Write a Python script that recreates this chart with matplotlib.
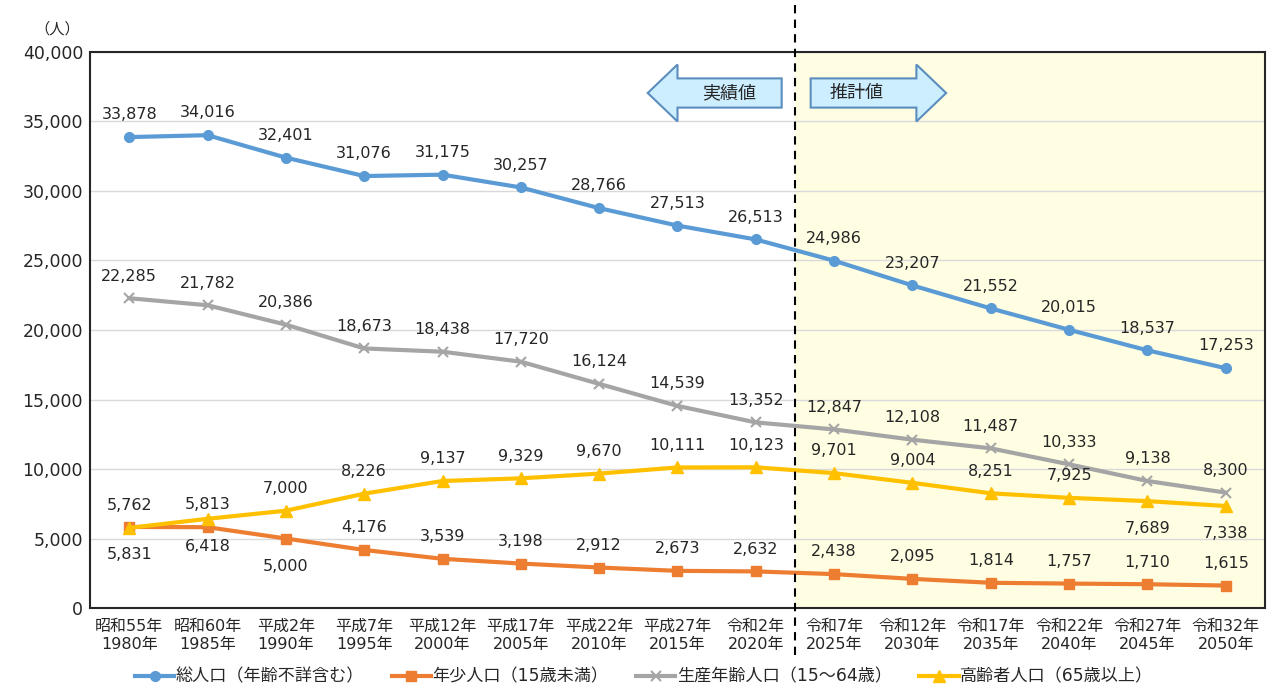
import matplotlib
matplotlib.use("Agg")
import matplotlib.pyplot as plt
from matplotlib.patches import Polygon
from matplotlib.ticker import FuncFormatter

# 数字はDejaVu、日本語はNoto CJKで表示
plt.rcParams['font.family'] = ['DejaVu Sans', 'Noto Sans CJK JP']

# データ
years_wareki = ['昭和55年', '昭和60年', '平成2年', '平成7年', '平成12年', '平成17年', '平成22年',
                '平成27年', '令和2年', '令和7年', '令和12年', '令和17年', '令和22年', '令和27年', '令和32年']
years_seireki = ['1980年', '1985年', '1990年', '1995年', '2000年', '2005年', '2010年', '2015年',
                 '2020年', '2025年', '2030年', '2035年', '2040年', '2045年', '2050年']
total = [33878, 34016, 32401, 31076, 31175, 30257, 28766, 27513, 26513,
         24986, 23207, 21552, 20015, 18537, 17253]
young = [5831, 5813, 5000, 4176, 3539, 3198, 2912, 2673, 2632,
         2438, 2095, 1814, 1757, 1710, 1615]
working = [22285, 21782, 20386, 18673, 18438, 17720, 16124, 14539, 13352,
           12847, 12108, 11487, 10333, 9138, 8300]
elderly = [5762, 6418, 7000, 8226, 9137, 9329, 9670, 10111, 10123,
           9701, 9004, 8251, 7925, 7689, 7338]

# ラベルを下に置く点
young_below = {0, 2}
elderly_below = {1, 13, 14}

x = list(range(len(total)))

fig = plt.figure(figsize=(12.68, 6.86), dpi=100)
ax = fig.add_axes([0.071, 0.1137, 0.9266, 0.8105])

# 推計値の背景
ax.axvspan(8.5, 14.5, color='#FFFEE2', zorder=0, lw=0)

series = [
    (total, '総人口（年齢不詳含む）', '#5B9BD5', 'o', 7, set()),
    (young, '年少人口（15歳未満）', '#ED7D31', 's', 7, young_below),
    (working, '生産年齢人口（15～64歳）', '#A5A5A5', 'x', 7, set()),
    (elderly, '高齢者人口（65歳以上）', '#FFC000', '^', 8, elderly_below),
]
for vals, name, col, mk, ms, below in series:
    ax.plot(x, vals, color=col, lw=3, marker=mk, markersize=ms, mew=1.5 if mk == 'x' else 1,
            label=name, zorder=3)
    for i, v in enumerate(vals):
        dy = -20 if i in below else 16
        ax.annotate(f'{v:,}', (i, v), xytext=(0, dy), textcoords='offset points',
                    ha='center', va='center', fontsize=11.5, color='#262626', zorder=4)

ax.set_xlim(-0.5, 14.5)
ax.set_ylim(0, 40000)
ax.set_yticks(range(0, 40001, 5000))
ax.yaxis.set_major_formatter(FuncFormatter(lambda v, p: f'{int(v):,}'))
ax.set_xticks(x)
ax.set_xticklabels([f'{a}\n{b}' for a, b in zip(years_wareki, years_seireki)], fontsize=11.5,
                   linespacing=1.25)
ax.tick_params(axis='both', length=0, colors='#262626')
ax.tick_params(axis='y', labelsize=12.5, pad=5)
ax.tick_params(axis='x', pad=8)
ax.set_axisbelow(True)
ax.grid(axis='y', color='#D9D9D9', lw=1)
for s in ax.spines.values():
    s.set_color('#262626')
    s.set_linewidth(1.5)

# 区切り線
ax.axvline(8.5, ymin=-0.085, ymax=1.085, color='black', ls=(0, (4, 3)), lw=1.5,
           clip_on=False, zorder=5)

# 矢印
arrow_kw = dict(facecolor='#CCEEFF', edgecolor='#5B8DBE', lw=1.5, zorder=6)
left_arrow = [(8.33, 38100), (7.0, 38100), (7.0, 39100), (6.62, 37050),
              (7.0, 35000), (7.0, 36000), (8.33, 36000)]
right_arrow = [(8.70, 38100), (10.05, 38100), (10.05, 39100), (10.43, 37050),
               (10.05, 35000), (10.05, 36000), (8.70, 36000)]
ax.add_patch(Polygon(left_arrow, closed=True, **arrow_kw))
ax.add_patch(Polygon(right_arrow, closed=True, **arrow_kw))
ax.text(7.66, 37050, '実績値', ha='center', va='center', fontsize=13, color='#262626', zorder=7)
ax.text(9.28, 37050, '推計値', ha='center', va='center', fontsize=13, color='#262626', zorder=7)

fig.text(0.045, 0.958, '（人）', ha='center', va='center', fontsize=11, color='#262626')

fig.legend(loc='lower center', bbox_to_anchor=(0.508, -0.022), ncol=4, frameon=False,
           fontsize=12.3, handlelength=2.3, handletextpad=0.1, columnspacing=1.6,
           numpoints=1, labelcolor='#262626')

fig.savefig('out.png', dpi=100)
